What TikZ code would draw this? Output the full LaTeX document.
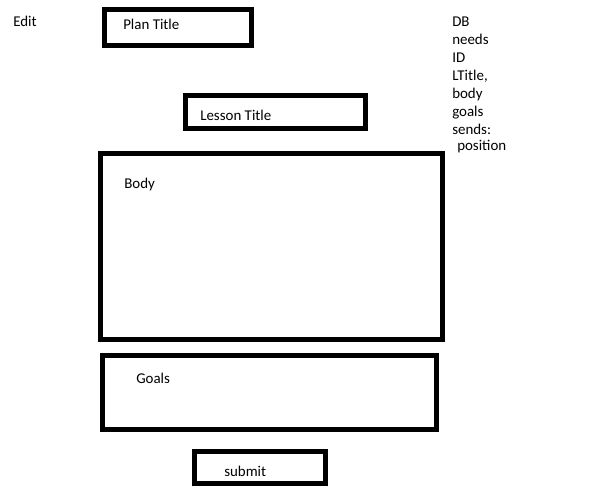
\documentclass[tikz,border=0pt]{standalone}
\usepackage{fontspec}
\setmainfont{Carlito}
\begin{document}
\begin{tikzpicture}[x=0.75pt,y=-0.75pt,
  frame/.style={draw=black,line width=3.75pt},
  lbl/.style={anchor=base west,inner sep=0pt,font=\fontsize{11.2pt}{13.5pt}\selectfont}]
\useasboundingbox[fill=white] (0,0) rectangle (592,502);
% input fields
\draw[frame] (104.5,9.5) rectangle (251.5,45.5);
\draw[frame] (185.5,95.5) rectangle (365.5,128.5);
\draw[frame] (100.5,153.5) rectangle (442.5,339.5);
\draw[frame] (102.5,355.5) rectangle (436.5,429.5);
\draw[frame] (194.5,451.5) rectangle (325.5,483.5);
% field labels
\node[lbl] (edit) at (13,27) {Edit};
\node[lbl] (plan) at (123,30) {Plan Title};
\node[lbl] (lesson) at (200,121) {Lesson Title};
\node[lbl] (body) at (124,189) {Body};
\node[lbl] (goals) at (136,383) {Goals};
\node[lbl] (submit) at (224,476) {submit};
% notes
\node[lbl] (n1) at (452,27) {DB};
\node[lbl] (n2) at (452,45) {needs};
\node[lbl] (n3) at (452,63) {ID};
\node[lbl] (n4) at (452,81) {LTitle,};
\node[lbl] (n5) at (452,99) {body};
\node[lbl] (n6) at (452,117) {goals};
\node[lbl] (n7) at (452,135) {sends:};
\node[lbl] (n8) at (457,151) {position};
\end{tikzpicture}
\end{document}
